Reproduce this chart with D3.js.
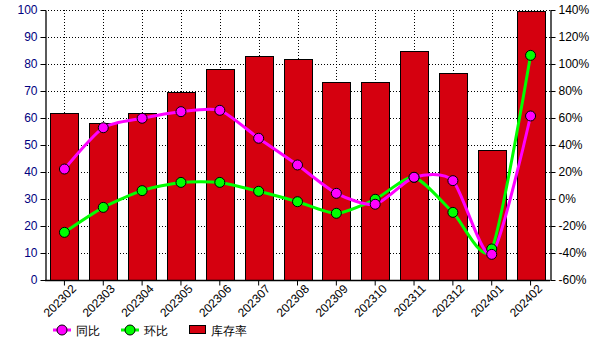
<!DOCTYPE html>
<html>
<head>
<meta charset="utf-8">
<script src="https://cdn.jsdelivr.net/npm/d3@7"></script>
<style>
  body { margin: 0; background: #fff; }
  svg { font-family: "Liberation Sans", Arial, sans-serif; }
</style>
</head>
<body>
<svg id="chart" width="590" height="340"></svg>
<script>
const months = ["202302", "202303", "202304", "202305", "202306", "202307", "202308",
  "202309", "202310", "202311", "202312", "202401", "202402"];
const stockRate = [62, 58, 62, 69.5, 78, 83, 82, 73.4, 73.4, 84.8, 76.5, 48, 99.6];
const yoy = [22.2, 52.8, 59.8, 64.7, 65.7, 45, 25.2, 4.2, -3.9, 16.1, 13.6, -41, 61.5];
const mom = [-24.7, -6.2, 6.2, 12.3, 12.3, 5.7, -2, -10.6, -0.2, 16, -9.9, -37, 106.4];
const leftTicks = [0, 10, 20, 30, 40, 50, 60, 70, 80, 90, 100];
const rightTicks = [-60, -40, -20, 0, 20, 40, 60, 80, 100, 120, 140];

const svg = d3.select("#chart");
const mLeft = 45, mRight = 550, mTop = 10, mBottom = 280;

const x = d3.scaleBand().domain(months).range([mLeft, mRight]).paddingInner(0.28).paddingOuter(0.14);
const xc = d => x(d) + x.bandwidth() / 2;
const y = d3.scaleLinear().domain([0, 100]).range([mBottom, mTop]);
const y2 = d3.scaleLinear().domain([-60, 140]).range([mBottom, mTop]);

// grid
const grid = svg.append("g").attr("stroke", "#000").attr("stroke-dasharray", "1,2").attr("stroke-width", 1);
grid.selectAll(".h").data(leftTicks.slice(1)).enter().append("line")
  .attr("x1", mLeft).attr("x2", mRight)
  .attr("y1", d => Math.round(y(d)) + 0.5).attr("y2", d => Math.round(y(d)) + 0.5);
grid.selectAll(".v").data(months).enter().append("line")
  .attr("x1", d => Math.round(xc(d)) + 0.5).attr("x2", d => Math.round(xc(d)) + 0.5)
  .attr("y1", mTop).attr("y2", mBottom);

// bars
svg.append("g").selectAll("rect").data(months).enter().append("rect")
  .attr("x", d => Math.round(x(d)) + 0.5)
  .attr("y", (d, i) => Math.round(y(stockRate[i])) + 0.5)
  .attr("width", Math.round(x.bandwidth()))
  .attr("height", (d, i) => Math.round(mBottom - y(stockRate[i])))
  .attr("fill", "#d5000f").attr("stroke", "#000").attr("stroke-width", 1);

// axes
const axL = svg.append("g").attr("transform", `translate(${mLeft + 0.5},0)`)
  .call(d3.axisLeft(y).tickValues(leftTicks).tickSize(5).tickSizeOuter(0));
axL.selectAll("text").attr("fill", "#000080");
const axR = svg.append("g").attr("transform", `translate(${mRight + 0.5},0)`)
  .call(d3.axisRight(y2).tickValues(rightTicks).tickSize(5).tickSizeOuter(0).tickFormat(d => d + "%"));
const axB = svg.append("g").attr("transform", `translate(0,${mBottom + 0.5})`)
  .call(d3.axisBottom(x).tickSize(5).tickSizeOuter(0));
axB.selectAll("text")
  .attr("text-anchor", "end")
  .attr("dx", "0.2em").attr("dy", "0.6em")
  .attr("transform", "rotate(-45)");
[axL, axR, axB].forEach(a => {
  a.selectAll("text").style("font-size", "12px");
  a.select(".domain").attr("stroke", "#000").attr("stroke-width", 1.3);
});
axB.select(".domain").attr("d", `M${mLeft},0H${mRight}`);
axR.selectAll("text").attr("fill", "#000");

// lines
const series = [
  { name: "同比", values: yoy, color: "#ff00ff" },
  { name: "环比", values: mom, color: "#00ff00" }
];
const line = d3.line().x((d, i) => xc(months[i])).y(d => y2(d)).curve(d3.curveCardinal.tension(0.3));
series.slice().reverse().forEach(s => {
  svg.append("path").datum(s.values).attr("d", line)
    .attr("fill", "none").attr("stroke", s.color).attr("stroke-width", 3);
});
series.slice().reverse().forEach(s => {
  svg.append("g").selectAll("circle").data(s.values).enter().append("circle")
    .attr("cx", (d, i) => xc(months[i])).attr("cy", d => y2(d)).attr("r", 5)
    .attr("fill", s.color).attr("stroke", "#000").attr("stroke-width", 1);
});

// legend
const lg = svg.append("g").style("font-size", "12px");
const ly = 330;
series.forEach((s, i) => {
  const lx = 53 + i * 68;
  lg.append("line").attr("x1", lx).attr("x2", lx + 18).attr("y1", ly).attr("y2", ly)
    .attr("stroke", s.color).attr("stroke-width", 3);
  lg.append("circle").attr("cx", lx + 9).attr("cy", ly).attr("r", 5)
    .attr("fill", s.color).attr("stroke", "#000");
  lg.append("text").attr("x", lx + 23).attr("y", ly + 4.5).text(s.name);
});
lg.append("rect").attr("x", 189.5).attr("y", 325.5).attr("width", 16).attr("height", 8)
  .attr("fill", "#d5000f").attr("stroke", "#000");
lg.append("text").attr("x", 211).attr("y", ly + 4.5).text("库存率");
</script>
</body>
</html>
